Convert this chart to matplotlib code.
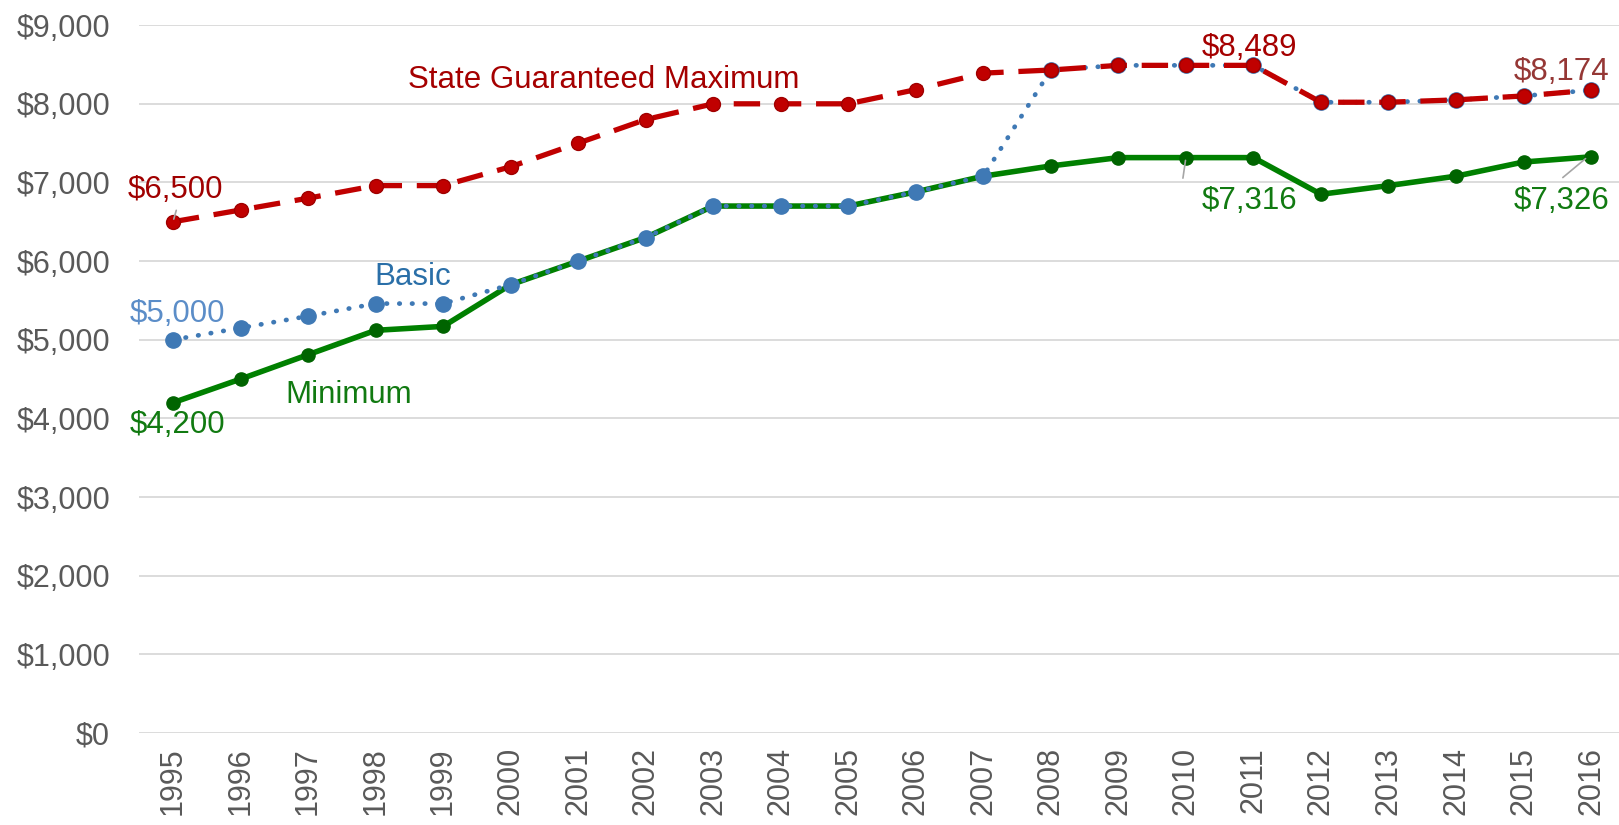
import matplotlib
matplotlib.use("Agg")
import matplotlib.pyplot as plt
from matplotlib.ticker import FuncFormatter

plt.rcParams['font.family'] = ['Liberation Sans', 'DejaVu Sans']

years = [str(y) for y in range(1995, 2017)]
state_max = [6500, 6650, 6800, 6960, 6960, 7200, 7500, 7800, 8000, 8000, 8000,
             8180, 8390, 8430, 8489, 8489, 8489, 8020, 8020, 8050, 8100, 8174]
basic = [5000, 5150, 5300, 5460, 5460, 5700, 6000, 6300, 6700, 6700, 6700,
         6880, 7080, 8430, 8489, 8489, 8489, 8020, 8020, 8050, 8100, 8174]
minimum = [4200, 4500, 4810, 5120, 5170, 5700, 6000, 6300, 6700, 6700, 6700,
           6880, 7080, 7210, 7316, 7316, 7316, 6850, 6960, 7080, 7260, 7326]

x = list(range(len(years)))

fig = plt.figure(figsize=(16.19, 8.25), dpi=100)
ax = fig.add_axes([0.086, 0.1115, 0.9176, 0.858])

# lines: green below, blue dotted, red dashed on top
ax.plot(x, minimum, color='#008000', lw=4, marker='o', ms=9.5,
        mfc='#006400', mec='#006400', zorder=3)
ax.plot(x, basic, color='#3F79B5', lw=3.4, linestyle=(0, (0.1, 2.6)),
        dash_capstyle='round', marker='o', ms=11, mfc='#3F79B5',
        mec='#3F79B5', zorder=4)
ax.plot(x, state_max, color='#C00000', lw=3.8, linestyle=(0, (5, 2.8)),
        marker='o', ms=10, mfc='#C00000', mec='#A00000', zorder=5)

ax.set_xlim(-0.5, 21.5)
ax.set_ylim(0, 9000)
ax.set_yticks(range(0, 9001, 1000))
ax.yaxis.set_major_formatter(FuncFormatter(lambda v, p: '${:,.0f}'.format(v)))
ax.set_xticks(x)
ax.set_xticklabels(years, rotation=90)
ax.tick_params(axis='both', length=0, labelsize=22, colors='#595959', pad=10)
ax.tick_params(axis='y', pad=21)
ax.grid(axis='y', color='#D9D9D9', lw=1.3)
ax.set_axisbelow(True)
for s in ax.spines.values():
    s.set_visible(False)

fs = 22.5
ax.text(6.38, 8300, 'State Guaranteed Maximum', color='#A50000', fontsize=fs,
        ha='center', va='center')
ax.text(3.55, 5800, 'Basic', color='#2A6FA8', fontsize=fs, ha='center', va='center')
ax.text(2.6, 4296, 'Minimum', color='#117A11', fontsize=fs, ha='center', va='center')

ax.text(0.03, 6900, '$6,500', color='#A00000', fontsize=fs, ha='center', va='center')
ax.text(0.07, 5330, '$5,000', color='#5B8DC8', fontsize=fs, ha='center', va='center')
ax.text(0.07, 3920, '$4,200', color='#117A11', fontsize=fs, ha='center', va='center')
ax.text(15.94, 8715, '$8,489', color='#A50000', fontsize=fs, ha='center', va='center')
ax.text(15.94, 6770, '$7,316', color='#117A11', fontsize=fs, ha='center', va='center')
ax.text(20.57, 8400, '$8,174', color='#953735', fontsize=fs, ha='center', va='center')
ax.text(20.57, 6770, '$7,326', color='#117A11', fontsize=fs, ha='center', va='center')

# leader lines
lead = dict(arrowstyle='-', color='#A6A6A6', lw=1.2)
ax.annotate('', xy=(0, 6500), xytext=(0.06, 6680), arrowprops=lead, zorder=6)
ax.annotate('', xy=(15.0, 7316), xytext=(14.95, 7020), arrowprops=lead, zorder=6)
ax.annotate('', xy=(20.95, 7326), xytext=(20.55, 7040), arrowprops=lead, zorder=6)

fig.savefig('out.png', dpi=100)
